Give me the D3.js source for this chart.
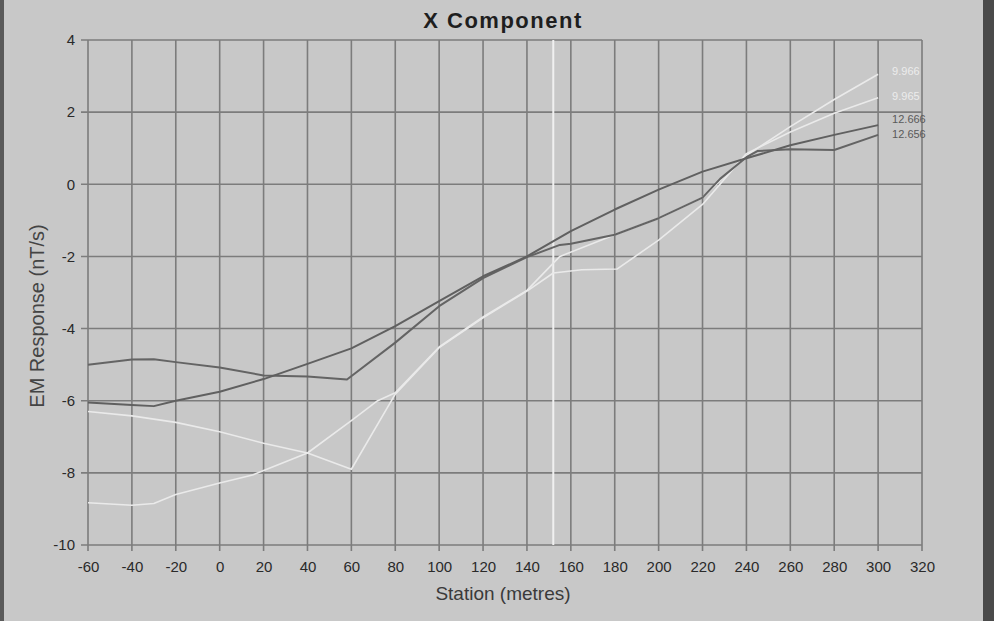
<!DOCTYPE html>
<html>
<head>
<meta charset="utf-8">
<script src="https://cdn.jsdelivr.net/npm/d3@7"></script>
<style>
  html, body { margin: 0; padding: 0; background: #c8c8c8; }
  svg { display: block; }
</style>
</head>
<body>
<div id="chart"></div>
<script>
// station axis (metres)
const stations = [-60, -40, -30, -20, 0, 20, 40, 60, 80, 100, 120, 140, 160, 180, 200, 220, 240, 260, 280, 300];

// dark traces
const darkA = [-6.05, -6.12, -6.15, -6.0, -5.75, -5.4, -4.98, -4.55, -3.93, -3.24, -2.55, -2.0, -1.3, -0.7, -0.15, 0.35, 0.72, 1.08, 1.37, 1.64];

const stationsB = [-60, -40, -30, -20, 0, 20, 40, 58, 80, 100, 120, 140, 155, 160, 180, 200, 220, 228, 240, 245, 260, 280, 300];
const darkB = [-5.0, -4.86, -4.85, -4.93, -5.08, -5.3, -5.33, -5.41, -4.39, -3.38, -2.6, -2.02, -1.68, -1.65, -1.4, -0.94, -0.37, 0.15, 0.75, 0.92, 0.97, 0.95, 1.37];

// light traces
const stationsW1 = [-60, -40, -20, 0, 20, 40, 60, 80, 100, 120, 140, 152, 165, 181, 200, 220, 240, 260, 280, 300];
const lightW1 = [-6.3, -6.42, -6.6, -6.86, -7.18, -7.45, -7.9, -5.82, -4.53, -3.7, -2.96, -2.46, -2.37, -2.35, -1.55, -0.56, 0.85, 1.45, 1.97, 2.4];

const stationsW2 = [-60, -40, -30, -20, 0, 15, 40, 60, 72, 80, 100, 120, 140, 155, 180, 200, 220, 240, 260, 280, 300];
const lightW2 = [-8.83, -8.9, -8.85, -8.6, -8.28, -8.06, -7.45, -6.55, -6.0, -5.78, -4.51, -3.68, -2.94, -2.0, -1.4, -0.94, -0.37, 0.8, 1.6, 2.35, 3.05];

const endLabelsDark = ["12.666", "12.656"];
const endLabelsLight = ["9.966", "9.965"];

const xTicks = d3.range(-60, 321, 20);
const yTicks = d3.range(-10, 5, 2);
const cursorStation = 152;

const W = 994, H = 621;
const svg = d3.select("#chart").append("svg")
    .attr("width", W)
    .attr("height", H);

svg.append("rect").attr("width", W).attr("height", H).attr("fill", "#c8c8c8");
// scan edges
svg.append("rect").attr("x", 0).attr("y", 0).attr("width", 4).attr("height", H).attr("fill", "#5a5a5a");
svg.append("rect").attr("x", 983).attr("y", 0).attr("width", 11).attr("height", H).attr("fill", "#4a4a4a");

const x = d3.scaleLinear().domain([-60, 320]).range([88, 922]);
const y = d3.scaleLinear().domain([-10, 4]).range([545, 40]);

// grid
svg.append("g")
    .selectAll("line")
    .data(xTicks)
    .join("line")
    .attr("x1", d => x(d)).attr("x2", d => x(d))
    .attr("y1", y(4)).attr("y2", y(-10) + 6)
    .attr("stroke", "#7c7c7c")
    .attr("stroke-width", 1.6);

svg.append("g")
    .selectAll("line")
    .data(yTicks)
    .join("line")
    .attr("x1", x(-60) - 7).attr("x2", x(320))
    .attr("y1", d => y(d)).attr("y2", d => y(d))
    .attr("stroke", "#7c7c7c")
    .attr("stroke-width", 1.6);

// axis labels only (lines drawn as grid)
const xAxis = svg.append("g")
    .attr("transform", "translate(0," + (y(-10) + 6) + ")")
    .call(d3.axisBottom(x).tickValues(xTicks).tickFormat(d => String(d)).tickSize(0).tickPadding(10));
const yAxis = svg.append("g")
    .attr("transform", "translate(" + (x(-60) - 7) + ",0)")
    .call(d3.axisLeft(y).tickValues(yTicks).tickFormat(d => String(d)).tickSize(0).tickPadding(6));
[xAxis, yAxis].forEach(a => {
    a.select(".domain").remove();
    a.selectAll("text")
        .attr("fill", "#2a2a2a")
        .attr("font-family", '"Liberation Sans", Arial, sans-serif')
        .attr("font-size", "15px");
});

// cursor line
svg.append("line")
    .attr("x1", x(cursorStation)).attr("x2", x(cursorStation))
    .attr("y1", y(4)).attr("y2", y(-10))
    .attr("stroke", "#f0f0f0")
    .attr("stroke-width", 2);

const line = d3.line().x(d => x(d[0])).y(d => y(d[1]));

const series = [
    { s: stationsW1, v: lightW1, color: "#eaeaea", w: 1.6 },
    { s: stationsW2, v: lightW2, color: "#eaeaea", w: 1.6 },
    { s: stationsB, v: darkB, color: "#646464", w: 2 },
    { s: stations, v: darkA, color: "#606060", w: 2 }
];

svg.append("g")
    .selectAll("path")
    .data(series)
    .join("path")
    .attr("d", d => line(d.s.map((s, i) => [s, d.v[i]])))
    .attr("fill", "none")
    .attr("stroke", d => d.color)
    .attr("stroke-width", d => d.w)
    .attr("stroke-linejoin", "round");

// end labels
const lblFont = '"Liberation Sans", Arial, sans-serif';
svg.append("g")
    .selectAll("text")
    .data(endLabelsLight)
    .join("text")
    .attr("x", x(300) + 14)
    .attr("y", (d, i) => [y(3.15), y(2.45)][i])
    .attr("dy", "0.35em")
    .attr("font-family", lblFont)
    .attr("font-size", "11px")
    .attr("fill", "#ececec")
    .text(d => d);
svg.append("g")
    .selectAll("text")
    .data(endLabelsDark)
    .join("text")
    .attr("x", x(300) + 14)
    .attr("y", (d, i) => [y(1.8), y(1.38)][i])
    .attr("dy", "0.35em")
    .attr("font-family", lblFont)
    .attr("font-size", "11px")
    .attr("fill", "#5a5a5a")
    .text(d => d);

// titles
svg.append("text")
    .attr("x", 503)
    .attr("y", 28)
    .attr("text-anchor", "middle")
    .attr("font-family", '"Liberation Sans", Arial, sans-serif')
    .attr("font-weight", "bold")
    .attr("font-size", "22px")
    .attr("letter-spacing", "1.5px")
    .attr("fill", "#1e1e1e")
    .text("X Component");

svg.append("text")
    .attr("x", 503)
    .attr("y", 600)
    .attr("text-anchor", "middle")
    .attr("font-family", lblFont)
    .attr("font-size", "19px")
    .attr("fill", "#3a3a3a")
    .text("Station (metres)");

svg.append("text")
    .attr("transform", "translate(44,316) rotate(-90)")
    .attr("text-anchor", "middle")
    .attr("font-family", '"Liberation Sans", Arial, sans-serif')
    .attr("font-size", "20px")
    .attr("fill", "#444")
    .text("EM Response (nT/s)");
</script>
</body>
</html>
